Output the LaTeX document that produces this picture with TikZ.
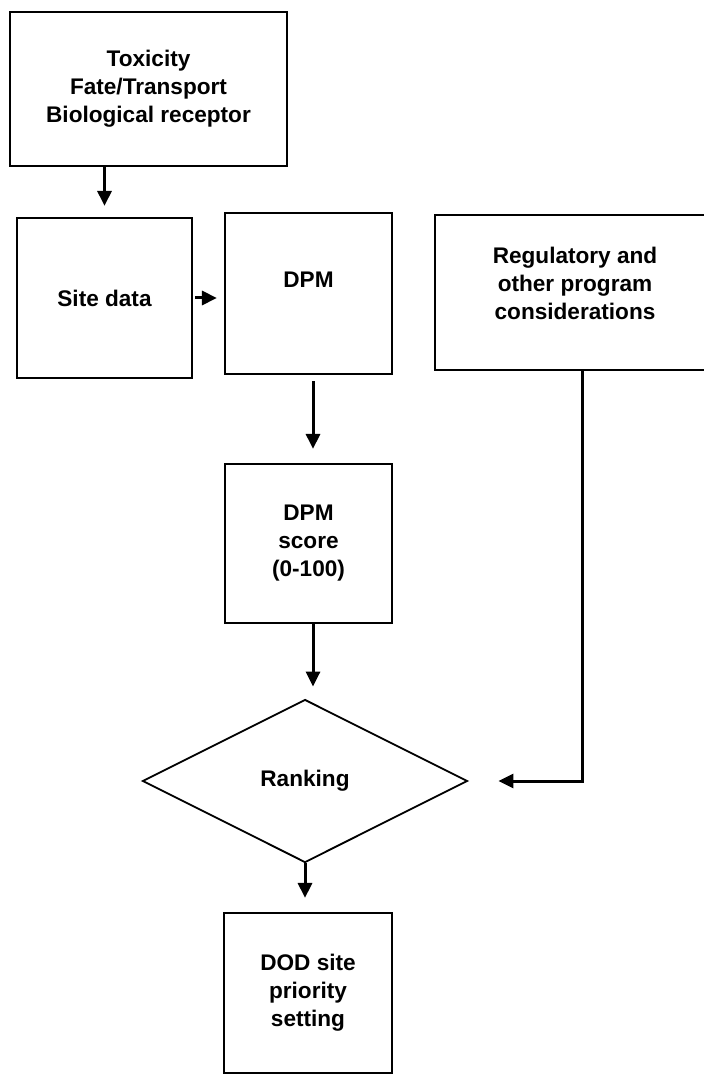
\documentclass[tikz,border=0pt]{standalone}
\usepackage{fontspec}
\setmainfont{Liberation Sans}
\usetikzlibrary{shapes.geometric,arrows.meta}
\begin{document}
\begin{tikzpicture}[x=0.5pt,y=-0.5pt,
  box/.style={draw,line width=1.1pt,inner sep=0pt,align=center,font=\bfseries\fontsize{11.3}{14}\selectfont},
  lbl/.style={inner sep=0pt,align=center,font=\bfseries\fontsize{11.3}{14}\selectfont},
  arr/.style={line width=1.5pt,-{Triangle[width=7pt,length=7.5pt]}}]
\useasboundingbox (0,0) rectangle (704,1074);
\node[box,minimum width=138.5pt,minimum height=77pt] (tox) at (148.5,89) {Toxicity\\Fate/Transport\\Biological receptor};
\node[box,minimum width=87.5pt,minimum height=80pt] (site) at (104.5,298) {Site data};
\node[box,minimum width=83.5pt,minimum height=80.5pt] (dpm) at (308.5,293.5) {};
\node[lbl] (dpmtext) at (308.5,280) {DPM};
\node[box,minimum width=140pt,minimum height=77.5pt] (reg) at (575,292.5) {};
\node[lbl] (regtext) at (575,283) {Regulatory and\\other program\\considerations};
\node[box,minimum width=83.5pt,minimum height=79.5pt] (score) at (308.5,543.5) {DPM\\score\\(0-100)};
\node[box,shape=diamond,line width=0.9pt,minimum width=162.5pt,minimum height=81.5pt] (rank) at (305,781) {Ranking};
\node[box,minimum width=84pt,minimum height=80pt] (dod) at (308,993) {DOD site\\priority\\setting};
\draw[arr,shorten >=5.5pt] (tox.south -| site.north) -- (site.north);
\draw[arr,shorten <=1pt,shorten >=3.5pt] (site.east) -- (site.east -| dpm.west);
\draw[arr,shorten <=3pt,shorten >=7pt] ([xshift=2.25pt]dpm.south) -- ([xshift=2.25pt]score.north);
\draw[arr,shorten >=6pt] ([xshift=2.25pt]score.south) -- ([xshift=2.25pt]score.south |- rank.north);
\draw[arr,shorten >=7pt] (rank.south) -- (rank.south |- dod.north);
\draw[arr,shorten >=15pt] ([xshift=3.5pt]reg.south) |- (rank.east);
\end{tikzpicture}
\end{document}
